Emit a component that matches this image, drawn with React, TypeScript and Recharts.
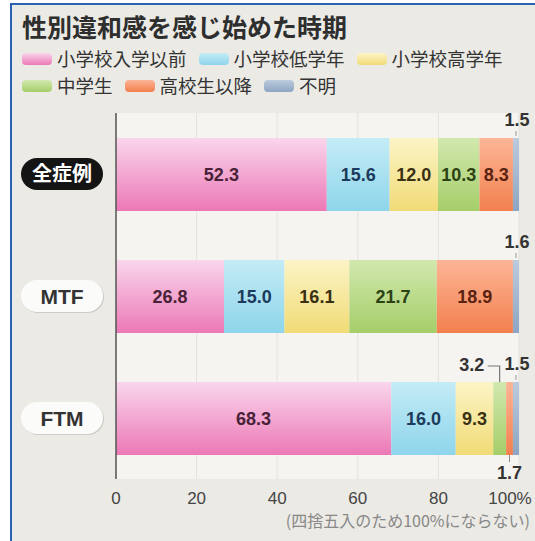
import { BarChart, Bar, XAxis, YAxis, CartesianGrid, LabelList } from "recharts";

const categories = ["全症例", "MTF", "FTM"];
const seriesNames = ["小学校入学以前", "小学校低学年", "小学校高学年", "中学生", "高校生以降", "不明"];
const preschool = [52.3, 26.8, 68.3];
const lowerGrades = [15.6, 15.0, 16.0];
const upperGrades = [12.0, 16.1, 9.3];
const juniorHigh = [10.3, 21.7, 3.2];
const highSchoolOrLater = [8.3, 18.9, 1.7];
const unknown = [1.5, 1.6, 1.5];
const xTicks = [0, 20, 40, 60, 80, 100];

const seriesValues = [preschool, lowerGrades, upperGrades, juniorHigh, highSchoolOrLater, unknown];
const KEYS = ["s0", "s1", "s2", "s3", "s4", "s5"];

// top / bottom of the gradient, label colour
const COLORS = [
  { top: "#f9d6ec", bottom: "#ec78b6", text: "#4a2238" },
  { top: "#c4ecf6", bottom: "#8ed5eb", text: "#1c3b5c" },
  { top: "#fcf4c6", bottom: "#f1db76", text: "#3a3012" },
  { top: "#d2e8ae", bottom: "#a5ce69", text: "#2c4214" },
  { top: "#fcb596", bottom: "#f3804e", text: "#5a2210" },
  { top: "#bccbde", bottom: "#8da5c2", text: "#333" },
];

const data = categories.map((name, i) => {
  const row: Record<string, string | number> = { name };
  seriesValues.forEach((vals, s) => {
    row[KEYS[s]] = vals[i];
  });
  return row;
});

const NUM_FONT = "'Liberation Sans', Arial, sans-serif";
const JP_FONT = "'Noto Sans CJK JP', 'Noto Sans', sans-serif";

function makeLabel(s: number) {
  return (props: any) => {
    const { x, y, width, height, value } = props;
    const cx = x + width / 2;
    const cy = y + height / 2;
    const text = Number(value).toFixed(1);
    const style = { fontFamily: NUM_FONT, fontSize: 18, fontWeight: 700 };
    if (value >= 5) {
      return (
        <text x={cx} y={cy} dy="0.36em" textAnchor="middle" fill={COLORS[s].text} style={style}>
          {text}
        </text>
      );
    }
    if (s === 3) {
      // small 中学生 value: label up-left with a bracket
      return (
        <g>
          <path d={`M${cx - 12},${y - 16}H${cx}V${y}`} stroke="#777" fill="none" strokeWidth={1.2} />
          <text x={cx - 28} y={y - 17} dy="0.36em" textAnchor="middle" fill="#333" style={style}>
            {text}
          </text>
        </g>
      );
    }
    if (s === 4) {
      return (
        <g>
          <line x1={cx} x2={cx} y1={y + height} y2={y + height + 7} stroke="#888" strokeWidth={1} />
          <text x={cx} y={y + height + 18} dy="0.36em" textAnchor="middle" fill="#333" style={style}>
            {text}
          </text>
        </g>
      );
    }
    return (
      <g>
        <line x1={cx} x2={cx} y1={y - 7} y2={y - 2} stroke="#999" strokeWidth={1} />
        <text x={cx + 1} y={y - 18} dy="0.36em" textAnchor="middle" fill="#333" style={style}>
          {text}
        </text>
      </g>
    );
  };
}

function YTick(props: any) {
  const { y, payload } = props;
  const dark = payload.value === "全症例";
  return (
    <g>
      {!dark && <rect x={22} y={y - 15} width={82} height={32} rx={16} fill="#b8b6b0" opacity={0.6} />}
      <rect x={21} y={y - 16} width={82} height={32} rx={16} fill={dark ? "#141414" : "#fbfbfa"} />
      <text
        x={62}
        y={y}
        dy="0.36em"
        textAnchor="middle"
        fill={dark ? "#fff" : "#333"}
        style={{ fontFamily: dark ? JP_FONT : NUM_FONT, fontSize: dark ? 20 : 21, fontWeight: 700 }}
      >
        {payload.value}
      </text>
    </g>
  );
}

function XTick(props: any) {
  const { x, y, payload } = props;
  const last = payload.value === 100;
  return (
    <text
      x={last ? x - 9 : x}
      y={y + 5}
      dy="0.71em"
      textAnchor="middle"
      fill="#444"
      style={{ fontFamily: NUM_FONT, fontSize: 17 }}
    >
      {last ? "100%" : payload.value}
    </text>
  );
}

function LegendRows() {
  const rows = [
    [0, 1, 2],
    [3, 4, 5],
  ];
  return (
    <div style={{ fontFamily: JP_FONT, fontSize: 18.5, color: "#333", lineHeight: "27px" }}>
      {rows.map((r, ri) => (
        <div key={ri} style={{ display: "flex", alignItems: "center", gap: 12 }}>
          {r.map((s) => (
            <div key={s} style={{ display: "flex", alignItems: "center" }}>
              <span
                style={{
                  display: "inline-block",
                  width: 30,
                  height: 12,
                  borderRadius: 4,
                  marginRight: 5,
                  background: `linear-gradient(${COLORS[s].top}, ${COLORS[s].bottom})`,
                }}
              />
              <span>{seriesNames[s]}</span>
            </div>
          ))}
        </div>
      ))}
    </div>
  );
}

export default function App() {
  return (
    <div style={{ position: "absolute", left: 0, top: 0, width: 535, height: 541, background: "#fff", overflow: "hidden" }}>
      <div
        style={{
          position: "absolute",
          left: 10,
          top: 3,
          width: 535,
          height: 541,
          borderLeft: "2px solid #2b63b3",
          borderTop: "2px solid #2b63b3",
          background: "#ebeae5",
        }}
      />
      <div
        style={{
          position: "absolute",
          left: 22,
          top: 10,
          fontFamily: JP_FONT,
          fontSize: 25,
          fontWeight: 700,
          color: "#2e2e2e",
          lineHeight: "32px",
        }}
      >
        性別違和感を感じ始めた時期
      </div>
      <div style={{ position: "absolute", left: 22, top: 45 }}>
        <LegendRows />
      </div>
      <div style={{ position: "absolute", left: 0, top: 0 }}>
        <BarChart
          layout="vertical"
          width={535}
          height={541}
          data={data}
          margin={{ top: 113, right: 16, bottom: 32, left: 0 }}
          barSize={73}
        >
          <defs>
            {COLORS.map((c, i) => (
              <linearGradient key={i} id={`grad${i}`} x1="0" y1="0" x2="0" y2="1">
                <stop offset="0%" stopColor={c.top} />
                <stop offset="100%" stopColor={c.bottom} />
              </linearGradient>
            ))}
          </defs>
          <CartesianGrid horizontal={false} vertical={true} stroke="#e4e2dc" fill="#f5f4f0" />
          <XAxis
            type="number"
            domain={[0, 100]}
            ticks={xTicks}
            allowDataOverflow
            axisLine={false}
            tickLine={false}
            tick={<XTick />}
            height={30}
            interval={0}
          />
          <YAxis
            type="category"
            dataKey="name"
            width={116}
            axisLine={{ stroke: "#555", strokeWidth: 1.5 }}
            tickLine={false}
            tick={<YTick />}
          />
          {KEYS.map((k, s) => (
            <Bar key={k} dataKey={k} name={seriesNames[s]} stackId="a" fill={`url(#grad${s})`} isAnimationActive={false}>
              <LabelList dataKey={k} content={makeLabel(s)} />
            </Bar>
          ))}
        </BarChart>
      </div>
      <div
        style={{
          position: "absolute",
          right: 5,
          top: 510,
          fontFamily: JP_FONT,
          fontSize: 16,
          color: "#888",
          lineHeight: "20px",
        }}
      >
        (四捨五入のため100%にならない)
      </div>
    </div>
  );
}
